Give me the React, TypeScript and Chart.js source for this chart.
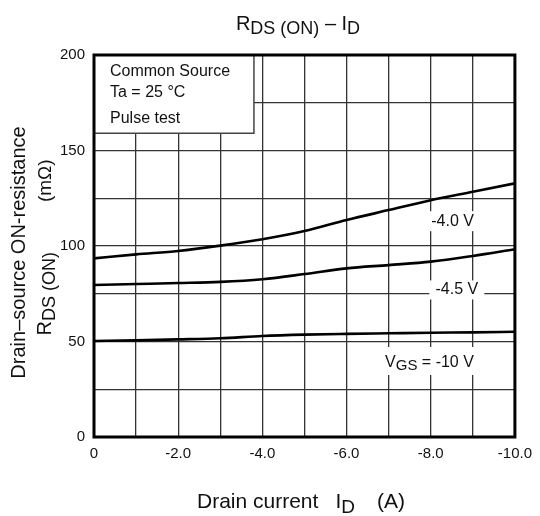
import { useEffect, useRef } from 'react';
import { Chart, registerables } from 'chart.js';

Chart.register(...registerables);

// Drain current I_D (A)
const currents = [0, -1, -2, -3, -4, -5, -6, -7, -8, -9, -10];
// R_DS(ON) (mΩ) for each gate voltage
const rdsVgs4_0 = [93.5, 95.6, 97.4, 100.2, 103.5, 107.8, 113.6, 118.8, 124.0, 128.4, 132.8];
const rdsVgs4_5 = [79.6, 80.1, 80.6, 81.2, 82.6, 85.3, 88.3, 90.0, 91.8, 94.8, 98.3];
const rdsVgs10 = [50.3, 50.6, 51.1, 51.7, 52.9, 53.6, 54.0, 54.3, 54.6, 54.8, 55.1];

const xTickLabels: Record<number, string> = { 0: '0', [-2]: '-2.0', [-4]: '-4.0', [-6]: '-6.0', [-8]: '-8.0', [-10]: '-10.0' };
const yTickLabels = [0, 50, 100, 150, 200];

const FONT = '"Liberation Sans", Arial, Helvetica, sans-serif';

type Part = { text?: string; size?: number; dy?: number; gap?: number };

function measureParts(ctx: CanvasRenderingContext2D, parts: Part[]) {
  let w = 0;
  for (const p of parts) {
    if (p.gap) { w += p.gap; continue; }
    ctx.font = `${p.size}px ${FONT}`;
    w += ctx.measureText(p.text || '').width;
  }
  return w;
}

function drawParts(ctx: CanvasRenderingContext2D, parts: Part[], x: number, y: number, align: 'left' | 'center') {
  const total = measureParts(ctx, parts);
  let cx = align === 'center' ? x - total / 2 : x;
  ctx.textAlign = 'left';
  ctx.textBaseline = 'alphabetic';
  for (const p of parts) {
    if (p.gap) { cx += p.gap; continue; }
    ctx.font = `${p.size}px ${FONT}`;
    ctx.fillText(p.text || '', cx, y + (p.dy || 0));
    cx += ctx.measureText(p.text || '').width;
  }
  return total;
}

const decorPlugin = {
  id: 'decor',
  beforeDatasetsDraw(chart: any) {
    const { ctx, chartArea: a, scales } = chart;
    const xs = scales.x, ys = scales.y;
    ctx.save();
    // info box
    const bx2 = xs.getPixelForValue(-3.8);
    const by2 = ys.getPixelForValue(159);
    ctx.fillStyle = '#fff';
    ctx.fillRect(a.left, a.top, bx2 - a.left, by2 - a.top);
    ctx.strokeStyle = '#444';
    ctx.lineWidth = 1.5;
    ctx.beginPath();
    ctx.moveTo(bx2, a.top);
    ctx.lineTo(bx2, by2);
    ctx.lineTo(a.left, by2);
    ctx.stroke();
    ctx.fillStyle = '#111';
    ctx.font = `16px ${FONT}`;
    ctx.textAlign = 'left';
    ctx.textBaseline = 'alphabetic';
    ctx.fillText('Common Source', a.left + 16, a.top + 21);
    ctx.fillText('Ta = 25 °C', a.left + 16, a.top + 42);
    ctx.fillText('Pulse test', a.left + 16, a.top + 68);

    // label backgrounds
    ctx.fillStyle = '#fff';
    const bg = (cxv: number, cyv: number, w: number, h: number) => {
      const px = xs.getPixelForValue(cxv), py = ys.getPixelForValue(cyv);
      ctx.fillRect(px - w / 2, py - h / 2, w, h);
    };
    bg(-8.52, 113, 46, 20);
    bg(-8.62, 77, 55, 19);
    bg(-7.97, 39.8, 92, 28);
    ctx.restore();
  },
  afterDatasetsDraw(chart: any) {
    const { ctx, chartArea: a, scales } = chart;
    const xs = scales.x, ys = scales.y;
    ctx.save();
    ctx.fillStyle = '#111';
    ctx.font = `16px ${FONT}`;
    ctx.textAlign = 'center';
    ctx.textBaseline = 'middle';
    ctx.fillText('-4.0 V', xs.getPixelForValue(-8.52), ys.getPixelForValue(113));
    ctx.fillText('-4.5 V', xs.getPixelForValue(-8.62), ys.getPixelForValue(77));
    drawParts(ctx, [
      { text: 'V', size: 16 },
      { text: 'GS', size: 15, dy: 3 },
      { text: ' = -10 V', size: 16 },
    ], xs.getPixelForValue(-7.97), ys.getPixelForValue(39.8) + 6, 'center');

    // frame
    ctx.strokeStyle = '#000';
    ctx.lineWidth = 3;
    ctx.strokeRect(a.left, a.top, a.right - a.left, a.bottom - a.top);

    // title
    ctx.fillStyle = '#111';
    drawParts(ctx, [
      { text: 'R', size: 20 },
      { text: 'DS (ON)', size: 18, dy: 4 },
      { text: ' – I', size: 20 },
      { text: 'D', size: 18, dy: 4 },
    ], 298, 30, 'center');

    // x title
    drawParts(ctx, [
      { text: 'Drain current', size: 21 },
      { gap: 17 },
      { text: 'I', size: 21 },
      { text: 'D', size: 19, dy: 5 },
      { gap: 22 },
      { text: '(A)', size: 21 },
    ], 197, 508, 'left');

    // y title (rotated)
    ctx.save();
    ctx.translate(25, 252.5);
    ctx.rotate(-Math.PI / 2);
    drawParts(ctx, [{ text: 'Drain–source ON-resistance', size: 20 }], 0, 0, 'center');
    ctx.restore();

    ctx.save();
    ctx.translate(51, 247.5);
    ctx.rotate(-Math.PI / 2);
    drawParts(ctx, [
      { text: 'R', size: 20 },
      { text: 'DS (ON)', size: 18, dy: 4 },
      { gap: 50 },
      { text: '(mΩ)', size: 19 },
    ], 0, 0, 'center');
    ctx.restore();

    ctx.restore();
  },
};

export default function App() {
  const ref = useRef<HTMLCanvasElement | null>(null);
  useEffect(() => {
    if (!ref.current) return;
    const mk = (vals: number[]) => currents.map((x, i) => ({ x, y: vals[i] }));
    const ds = (label: string, vals: number[]) => ({
      label,
      data: mk(vals),
      borderColor: '#000',
      borderWidth: 2.6,
      pointRadius: 0,
      fill: false,
      cubicInterpolationMode: 'monotone' as const,
    });
    const chart = new Chart(ref.current, {
      type: 'line',
      data: {
        datasets: [
          ds('VGS = -4.0 V', rdsVgs4_0),
          ds('VGS = -4.5 V', rdsVgs4_5),
          ds('VGS = -10 V', rdsVgs10),
        ],
      },
      options: {
        animation: false,
        responsive: false,
        devicePixelRatio: 1,
        layout: { padding: { top: 55, right: 19, left: 0, bottom: 0 } },
        plugins: { legend: { display: false }, tooltip: { enabled: false }, title: { display: false } },
        scales: {
          x: {
            type: 'linear',
            min: -10,
            max: 0,
            reverse: true,
            afterFit: (s: any) => { s.height = 79; },
            grid: { color: '#333', lineWidth: 1.3, drawTicks: false },
            border: { display: false },
            ticks: {
              stepSize: 1,
              autoSkip: false,
              maxRotation: 0,
              padding: 8,
              color: '#111',
              font: { family: FONT, size: 15 },
              callback: (v: any) => xTickLabels[Math.round(Number(v))] ?? '',
            },
          },
          y: {
            type: 'linear',
            min: 0,
            max: 200,
            afterFit: (s: any) => { s.width = 94; },
            grid: { color: '#333', lineWidth: 1.3, drawTicks: false },
            border: { display: false },
            ticks: {
              stepSize: 25,
              autoSkip: false,
              padding: 9,
              color: '#111',
              font: { family: FONT, size: 15 },
              callback: (v: any) => (yTickLabels.includes(Number(v)) ? String(v) : ''),
            },
          },
        },
      },
      plugins: [decorPlugin],
    });
    return () => chart.destroy();
  }, []);
  return (
    <div style={{ position: 'fixed', left: 0, top: 0, width: 540, height: 516, background: '#fff' }}>
      <canvas ref={ref} width={540} height={516} style={{ display: 'block' }} />
    </div>
  );
}
